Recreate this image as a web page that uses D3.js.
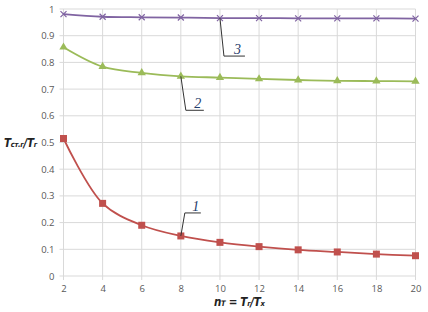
<!DOCTYPE html>
<html>
<head>
<meta charset="utf-8">
<script src="https://cdn.jsdelivr.net/npm/d3@7"></script>
<style>
  html, body { margin: 0; padding: 0; background: #fff; }
  svg { display: block; }
  .tick text { font-family: "Open Sans", "Liberation Sans", sans-serif; font-size: 9.5px; fill: #595959; }
  .lbl { font-family: "DejaVu Sans Condensed", "DejaVu Sans", sans-serif; font-weight: bold; font-style: oblique; fill: #222; }
  .num { font-family: "Liberation Serif", serif; font-style: italic; font-size: 14px; fill: #1f3d6b; }
</style>
</head>
<body>
<svg id="chart" width="428" height="312"></svg>
<script>
// данные
var nT = [2, 4, 6, 8, 10, 12, 14, 16, 18, 20];
var curve1 = [0.515, 0.272, 0.19, 0.15, 0.126, 0.11, 0.098, 0.09, 0.082, 0.076];
var curve2 = [0.857, 0.784, 0.761, 0.748, 0.743, 0.738, 0.734, 0.731, 0.730, 0.729];
var curve3 = [0.981, 0.971, 0.969, 0.968, 0.966, 0.966, 0.965, 0.965, 0.965, 0.964];
var xTicks = [2, 4, 6, 8, 10, 12, 14, 16, 18, 20];
var yTicks = [0, 0.1, 0.2, 0.3, 0.4, 0.5, 0.6, 0.7, 0.8, 0.9, 1];
// номера кривых и точки, к которым ведут выноски
var callouts = [
  { name: '1', xv: 8, yv: 0.15, dx: 4, dy: -23, len: 16 },
  { name: '2', xv: 8, yv: 0.748, dx: 5, dy: 34, len: 18 },
  { name: '3', xv: 10, yv: 0.966, dx: 4, dy: 38, len: 21 }
];

var svg = d3.select('#chart');
var x = d3.scaleLinear().domain([2, 20]).range([63.5, 415.5]);
var y = d3.scaleLinear().domain([0, 1]).range([276, 9]);

// сетка
var grid = svg.append('g');
grid.selectAll('line.h').data(yTicks).enter().append('line')
  .attr('x1', x(2) - 4).attr('x2', x(20))
  .attr('y1', function (d) { return y(d); }).attr('y2', function (d) { return y(d); })
  .attr('stroke', '#d9d9d9').attr('stroke-width', 1);
grid.selectAll('line.v').data(xTicks).enter().append('line')
  .attr('y1', y(1)).attr('y2', y(0) + 4)
  .attr('x1', function (d) { return x(d); }).attr('x2', function (d) { return x(d); })
  .attr('stroke', '#d9d9d9').attr('stroke-width', 1);

// оси (только подписи)
svg.append('g').attr('transform', 'translate(0,' + (y(0) + 3) + ')')
  .call(d3.axisBottom(x).tickValues(xTicks).tickSize(0).tickPadding(6))
  .call(function (g) { g.select('.domain').remove(); });
svg.append('g').attr('transform', 'translate(' + (x(2) - 5) + ',0)')
  .call(d3.axisLeft(y).tickValues(yTicks).tickSize(0).tickPadding(4).tickFormat(d3.format('~g')))
  .call(function (g) { g.select('.domain').remove(); });

// кривые
var series = [
  { vals: curve1, color: '#c0504d', mark: 'square' },
  { vals: curve2, color: '#9bbb59', mark: 'triangle' },
  { vals: curve3, color: '#8064a2', mark: 'cross' }
];
var line = d3.line()
  .x(function (d) { return x(d[0]); })
  .y(function (d) { return y(d[1]); })
  .curve(d3.curveCatmullRom.alpha(0.5));

series.forEach(function (s) {
  var pts = nT.map(function (v, i) { return [v, s.vals[i]]; });
  svg.append('path').datum(pts).attr('d', line)
    .attr('fill', 'none').attr('stroke', s.color).attr('stroke-width', 1.8);
  var g = svg.append('g');
  if (s.mark === 'square') {
    g.selectAll('rect').data(pts).enter().append('rect')
      .attr('x', function (d) { return x(d[0]) - 3.5; }).attr('y', function (d) { return y(d[1]) - 3.5; })
      .attr('width', 7).attr('height', 7).attr('fill', s.color);
  } else if (s.mark === 'triangle') {
    g.selectAll('path').data(pts).enter().append('path')
      .attr('d', d3.symbol().type(d3.symbolTriangle).size(30))
      .attr('transform', function (d) { return 'translate(' + x(d[0]) + ',' + y(d[1]) + ')'; })
      .attr('fill', s.color);
  } else {
    g.selectAll('path').data(pts).enter().append('path')
      .attr('d', 'M-3,-3L3,3M-3,3L3,-3')
      .attr('transform', function (d) { return 'translate(' + x(d[0]) + ',' + y(d[1]) + ')'; })
      .attr('stroke', s.color).attr('stroke-width', 1.2).attr('fill', 'none');
  }
});

// выноски с номерами
callouts.forEach(function (c) {
  var x0 = x(c.xv), y0 = y(c.yv);
  var x1 = x0 + c.dx, y1 = y0 + c.dy;
  svg.append('path')
    .attr('d', 'M' + x0 + ',' + y0 + 'L' + x1 + ',' + y1 + 'L' + (x1 + c.len) + ',' + y1)
    .attr('fill', 'none').attr('stroke', '#333').attr('stroke-width', 1);
  svg.append('text').attr('class', 'num')
    .attr('x', x1 + c.len / 2 + 3).attr('y', y1 - 2).attr('text-anchor', 'middle')
    .text(c.name);
});

// подпись оси Y: Tст.г/Tг
var yl = svg.append('text').attr('class', 'lbl').attr('x', 4).attr('y', 147).attr('font-size', 11.5)
  .attr('letter-spacing', -0.3);
yl.append('tspan').text('T');
yl.append('tspan').attr('font-size', 7.5).text('ст.г');
yl.append('tspan').text('/T');
yl.append('tspan').attr('font-size', 7.5).text('г');

// подпись оси X: nT = Tг/Tх
var xl = svg.append('text').attr('class', 'lbl').attr('x', 214).attr('y', 306).attr('font-size', 11.5)
  .attr('letter-spacing', -0.3);
xl.append('tspan').text('n');
xl.append('tspan').attr('font-size', 7.5).text('T');
xl.append('tspan').text(' = T');
xl.append('tspan').attr('font-size', 7.5).text('г');
xl.append('tspan').text('/T');
xl.append('tspan').attr('font-size', 7.5).text('х');
</script>
</body>
</html>
